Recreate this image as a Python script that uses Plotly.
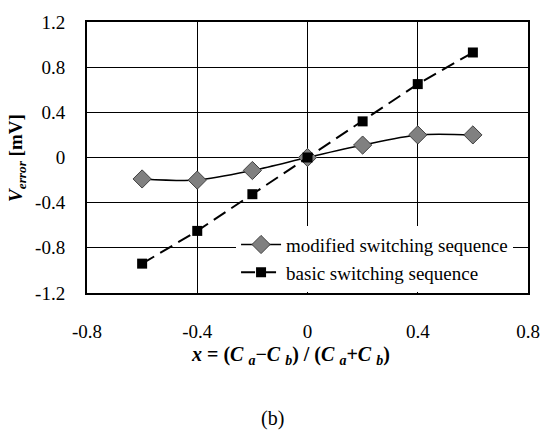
import plotly.graph_objects as go

x_vals = [-0.6, -0.4, -0.2, 0.0, 0.2, 0.4, 0.6]
modified = [-0.19, -0.20, -0.115, 0.0, 0.11, 0.20, 0.20]
basic = [-0.94, -0.65, -0.325, 0.0, 0.32, 0.65, 0.93]
x_ticks = [-0.8, -0.4, 0, 0.4, 0.8]
x_tick_text = ["-0.8", "-0.4", "0", "0.4", "0.8"]
y_ticks = [-1.2, -0.8, -0.4, 0, 0.4, 0.8, 1.2]
y_tick_text = ["-1.2", "-0.8", "-0.4", "0", "0.4", "0.8", "1.2"]

FONT = "Times New Roman, Liberation Serif, DejaVu Serif, serif"

fig = go.Figure()
fig.add_trace(go.Scatter(
    x=x_vals, y=modified, name="modified switching sequence",
    mode="lines+markers",
    line=dict(color="black", width=1.5, shape="spline", smoothing=0.8),
    marker=dict(symbol="diamond", size=14, color="#808080",
                line=dict(color="#404040", width=1)),
))
fig.add_trace(go.Scatter(
    x=x_vals, y=basic, name="basic switching sequence",
    mode="lines+markers",
    line=dict(color="black", width=2, dash="14px,7px"),
    marker=dict(symbol="square", size=10, color="black"),
))

fig.update_layout(
    width=552, height=441,
    margin=dict(l=87, r=15, t=13, b=148),
    paper_bgcolor="white", plot_bgcolor="white",
    font=dict(family=FONT, size=19, color="black"),
    showlegend=True,
    legend=dict(x=0.338, y=0.005, xanchor="left", yanchor="bottom",
                bgcolor="white", borderwidth=0,
                font=dict(family=FONT, size=19, color="black"),
                itemwidth=40, tracegroupgap=0),
    xaxis=dict(range=[-0.8, 0.8], tickvals=x_ticks, ticktext=x_tick_text,
               showgrid=True, gridcolor="black", gridwidth=1,
               zeroline=False, showline=True, linecolor="black", linewidth=2,
               mirror=True, ticks="", ticklabelstandoff=20,
               tickfont=dict(family=FONT, size=19, color="black")),
    yaxis=dict(range=[-1.2, 1.2], tickvals=y_ticks, ticktext=y_tick_text,
               showgrid=True, gridcolor="black", gridwidth=1,
               zeroline=False, showline=True, linecolor="black", linewidth=2,
               mirror=True, ticks="", ticklabelstandoff=16,
               tickfont=dict(family=FONT, size=19, color="black")),
    annotations=[
        dict(text="<b><i>x</i> = (<i>C</i> <sub><i>a</i></sub>−<i>C</i> <sub><i>b</i></sub>) / (<i>C</i> <sub><i>a</i></sub>+<i>C</i> <sub><i>b</i></sub>)</b>",
             xref="paper", yref="paper", x=0.462, y=-0.232,
             xanchor="center", yanchor="middle", showarrow=False,
             font=dict(family=FONT, size=20, color="black")),
        dict(text="<b><i>V</i><sub><i>error</i></sub> [mV]</b>",
             xref="paper", yref="paper", x=-0.16, y=0.50, textangle=-90,
             xanchor="center", yanchor="middle", showarrow=False,
             font=dict(family=FONT, size=19, color="black")),
        dict(text="(b)", xref="paper", yref="paper", x=0.42, y=-0.464,
             xanchor="center", yanchor="middle", showarrow=False,
             font=dict(family=FONT, size=20, color="black")),
    ],
)

fig.write_html("out.html")
